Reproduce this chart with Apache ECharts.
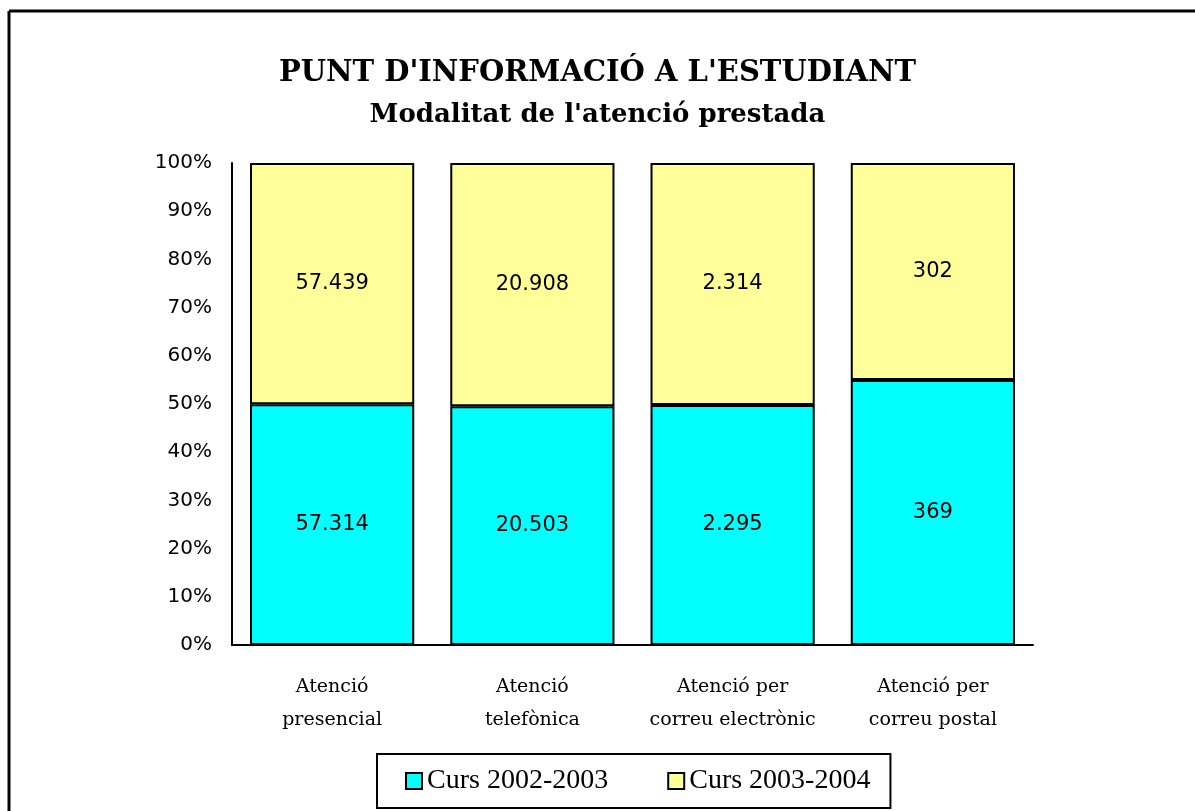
<!DOCTYPE html>
<html lang="ca">
<head>
    <meta charset="UTF-8">
    <title>Punt d'informació a l'estudiant</title>
    <script src="https://cdn.jsdelivr.net/npm/echarts@6/dist/echarts.min.js"></script>
    <style>
        html, body { margin: 0; padding: 0; background: #fff; }
    </style>
</head>
<body>
<div id="main" style="width: 1195px;height:811px;"></div>
<script type="text/javascript">
    // dades
    var categories = ['Atenció\npresencial', 'Atenció\ntelefònica', 'Atenció per\ncorreu electrònic', 'Atenció per\ncorreu postal'];
    var curs0203 = [57314, 20503, 2295, 369];
    var curs0304 = [57439, 20908, 2314, 302];
    var yTicks = [0, 10, 20, 30, 40, 50, 60, 70, 80, 90, 100];

    function pct(arr, i) {
        return arr[i] / (curs0203[i] + curs0304[i]) * 100;
    }
    // format català: 57.314
    function fmt(v) {
        return String(v).replace(/\B(?=(\d{3})+(?!\d))/g, '.');
    }

    var myChart = echarts.init(document.getElementById('main'));

    var serif = '"Liberation Serif", "DejaVu Serif", serif';
    var wideSerif = '"DejaVu Serif", serif';
    var sans = '"DejaVu Sans", sans-serif';

    var barLabel = {
        show: true,
        position: 'inside',
        color: '#000',
        fontFamily: sans,
        fontSize: 21,
        formatter: function (p) { return fmt(p.data.raw); }
    };

    myChart.setOption({
        animation: false,
        title: {
            text: "PUNT D'INFORMACIÓ A L'ESTUDIANT",
            subtext: "Modalitat de l'atenció prestada",
            left: 'center',
            top: 54,
            itemGap: 14,
            textStyle: { fontFamily: wideSerif, fontSize: 29, fontWeight: 'bold', color: '#000' },
            subtextStyle: { fontFamily: wideSerif, fontSize: 26, fontWeight: 'bold', color: '#000' }
        },
        graphic: [
            { type: 'line', shape: { x1: 9, y1: 11, x2: 1195, y2: 11 }, style: { stroke: '#000', lineWidth: 3 } },
            { type: 'line', shape: { x1: 9, y1: 11, x2: 9, y2: 811 }, style: { stroke: '#000', lineWidth: 3 } }
        ],
        grid: { left: 232, right: 162, top: 163, bottom: 166 },
        legend: {
            left: 377,
            top: 754,
            padding: [13, 20, 13, 28],
            itemGap: 59,
            itemWidth: 16,
            itemHeight: 16,
            icon: 'rect',
            borderColor: '#000',
            borderWidth: 2,
            textStyle: { fontFamily: serif, fontSize: 28, color: '#000' },
            data: ['Curs 2002-2003', 'Curs 2003-2004']
        },
        xAxis: {
            type: 'category',
            data: categories,
            axisLine: { lineStyle: { color: '#000', width: 2 } },
            axisTick: { show: false },
            axisLabel: { interval: 0, fontFamily: wideSerif, fontSize: 19, color: '#000', lineHeight: 33, margin: 26 }
        },
        yAxis: {
            type: 'value',
            min: 0,
            max: 100,
            interval: 10,
            axisLine: { show: true, lineStyle: { color: '#000', width: 2 } },
            axisTick: { show: false },
            splitLine: { show: false },
            axisLabel: {
                fontFamily: sans, fontSize: 20, color: '#000', margin: 20,
                formatter: function (v) { return yTicks.indexOf(v) >= 0 ? v + '%' : ''; }
            }
        },
        series: [{
            name: 'Curs 2002-2003',
            type: 'bar',
            stack: 'total',
            barCategoryGap: '18%',
            data: curs0203.map(function (c, i) { return { value: pct(curs0203, i), raw: c }; }),
            itemStyle: { color: '#00FFFF', borderColor: '#000', borderWidth: 2 },
            label: barLabel
        }, {
            name: 'Curs 2003-2004',
            type: 'bar',
            stack: 'total',
            barCategoryGap: '18%',
            data: curs0304.map(function (c, i) { return { value: pct(curs0304, i), raw: c }; }),
            itemStyle: { color: '#FFFF99', borderColor: '#000', borderWidth: 2 },
            label: barLabel
        }]
    });
    window.addEventListener("resize", function () {
        myChart.resize();
    });
</script>
</body>
</html>
